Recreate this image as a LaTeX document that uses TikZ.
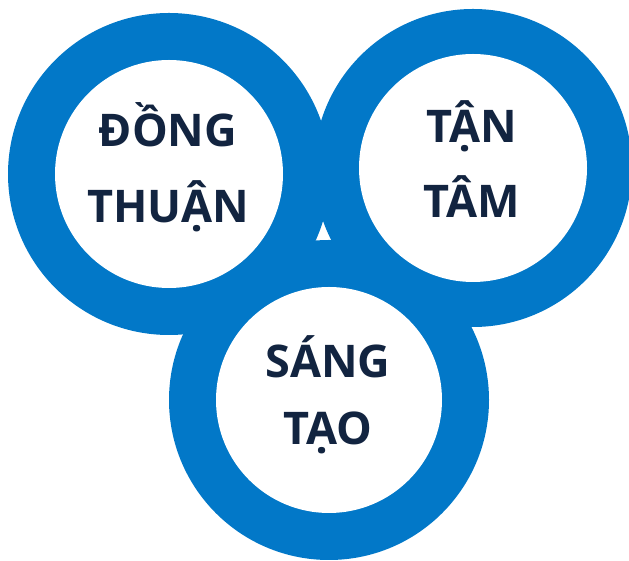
\documentclass[tikz,border=0pt]{standalone}
\usepackage{fontspec}
\setmainfont{Open Sans}
\usepackage{tikz}
\definecolor{ringblue}{RGB}{2,120,200}
\definecolor{textnavy}{RGB}{18,36,64}
\tikzset{
  ringouter/.style={fill=ringblue},
  ringinner/.style={fill=white},
  ringlabel/.style={text=textnavy,font=\fontsize{45}{76}\selectfont\bfseries,align=center,inner sep=0pt,anchor=base}
}
\begin{document}
\begin{tikzpicture}[x=1pt,y=1pt]
		\useasboundingbox (0,0) rectangle (629,561);
		% ring centres
		\coordinate (left) at (169,387);
		\coordinate (right) at (473,393);
		\coordinate (bottom) at (329,161);
		% blue discs
		\fill[ringouter] (left) circle (161);
		\fill[ringouter] (right) circle (159);
		\fill[ringouter] (bottom) circle (160);
		% white centres
		\fill[ringinner] (left) circle (114);
		\fill[ringinner] (right) circle (114);
		\fill[ringinner] (bottom) circle (113);
		% labels, placed on the baseline of their last line
		\node[ringlabel] (dongthuan) at (168,338) {ĐỒNG\\THUẬN};
		\node[ringlabel,font=\fontsize{45}{75}\selectfont\bfseries] (tantam) at (472,343) {TẬN\\TÂM};
		\node[ringlabel,font=\fontsize{45}{67}\selectfont\bfseries] (sangtao) at (328,116) {SÁNG\\TẠO};
	\end{tikzpicture}
\end{document}
